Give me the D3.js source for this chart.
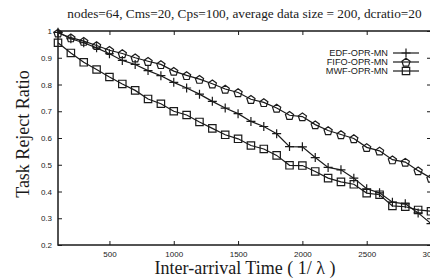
<!DOCTYPE html>
<html>
<head>
<meta charset="utf-8">
<script src="https://d3js.org/d3.v7.min.js"></script>
<style>
  body { margin: 0; background: #fff; }
  svg { display: block; }
</style>
</head>
<body>
<svg id="chart" width="430" height="278"></svg>
<script>
var xValues = [100, 200, 300, 400, 500, 600, 700, 800, 900, 1000, 1100, 1200, 1300, 1400, 1500,
  1600, 1700, 1800, 1900, 2000, 2100, 2200, 2300, 2400, 2500, 2600, 2700, 2800, 2900, 3000];
var edf = [0.995, 0.971, 0.956, 0.937, 0.915, 0.890, 0.875, 0.852, 0.833, 0.808, 0.787, 0.764, 0.737, 0.712, 0.691,
  0.662, 0.643, 0.616, 0.568, 0.567, 0.527, 0.490, 0.481, 0.450, 0.410, 0.395, 0.360, 0.354, 0.320, 0.280];
var fifo = [0.993, 0.975, 0.962, 0.946, 0.928, 0.916, 0.900, 0.887, 0.875, 0.850, 0.834, 0.820, 0.803, 0.783, 0.770,
  0.745, 0.733, 0.712, 0.685, 0.680, 0.650, 0.628, 0.613, 0.598, 0.565, 0.552, 0.519, 0.510, 0.478, 0.450];
var mwf = [0.956, 0.918, 0.883, 0.856, 0.828, 0.802, 0.778, 0.746, 0.728, 0.700, 0.686, 0.660, 0.636, 0.612, 0.597,
  0.572, 0.559, 0.535, 0.498, 0.497, 0.475, 0.450, 0.436, 0.427, 0.394, 0.388, 0.346, 0.343, 0.331, 0.326];
var seriesNames = ['EDF-OPR-MN', 'FIFO-OPR-MN', 'MWF-OPR-MN'];
var seriesMarks = ['plus', 'pentagon', 'square'];
var xTicks = [500, 1000, 1500, 2000, 2500, 3000];
var yTicks = [0.2, 0.3, 0.4, 0.5, 0.6, 0.7, 0.8, 0.9, 1];
var title = 'nodes=64, Cms=20, Cps=100, average data size = 200, dcratio=20';

var svg = d3.select('#chart');
var plotLeft = 58, plotRight = 431, plotTop = 31, plotBottom = 245;
var ink = '#1a1a1a';

var x = d3.scaleLinear().domain([100, 3000]).range([plotLeft, plotRight]);
var y = d3.scaleLinear().domain([0.2, 1]).range([plotBottom, plotTop]);

// frame
svg.append('rect')
  .attr('x', plotLeft).attr('y', plotTop)
  .attr('width', plotRight - plotLeft).attr('height', plotBottom - plotTop)
  .attr('fill', 'none').attr('stroke', ink).attr('stroke-width', 1.5);

// axes with inward ticks
var xAxis = svg.append('g').attr('transform', 'translate(0,' + plotBottom + ')')
  .call(d3.axisBottom(x).tickValues(xTicks).tickSize(-4).tickPadding(6).tickFormat(d3.format('d')));
var xTop = svg.append('g').attr('transform', 'translate(0,' + plotTop + ')')
  .call(d3.axisTop(x).tickValues(xTicks).tickSize(-4).tickFormat(''));
var yAxis = svg.append('g').attr('transform', 'translate(' + plotLeft + ',0)')
  .call(d3.axisLeft(y).tickValues(yTicks).tickSize(-4).tickPadding(6).tickFormat(function (d) {
    return d === 1 ? '1' : d3.format('.1f')(d);
  }));
var yRight = svg.append('g').attr('transform', 'translate(' + plotRight + ',0)')
  .call(d3.axisRight(y).tickValues(yTicks).tickSize(-4).tickFormat(''));

[xAxis, xTop, yAxis, yRight].forEach(function (g) {
  g.select('.domain').remove();
  g.selectAll('line').attr('stroke', ink).attr('stroke-width', 1);
  g.selectAll('text')
    .attr('fill', ink)
    .style('font-family', '"Liberation Sans", Arial, sans-serif')
    .style('font-size', '8px');
});

// marker shapes
function markPath(kind, cx, cy) {
  if (kind === 'plus') {
    return 'M' + (cx - 4.5) + ',' + cy + 'H' + (cx + 4.5) + 'M' + cx + ',' + (cy - 4.5) + 'V' + (cy + 4.5);
  }
  if (kind === 'square') {
    return 'M' + (cx - 3.7) + ',' + (cy - 3.7) + 'h7.4v7.4h-7.4Z';
  }
  var pts = d3.range(5).map(function (i) {
    var a = -Math.PI / 2 + i * 2 * Math.PI / 5;
    return [cx + 4.3 * Math.cos(a), cy + 4.3 * Math.sin(a) + 0.6];
  });
  return 'M' + pts.join('L') + 'Z';
}

var line = d3.line()
  .x(function (d) { return x(d[0]); })
  .y(function (d) { return y(d[1]); });

var allSeries = [edf, fifo, mwf];
allSeries.forEach(function (vals, k) {
  var pts = xValues.map(function (v, i) { return [v, vals[i]]; });
  svg.append('path')
    .datum(pts)
    .attr('d', line)
    .attr('fill', 'none').attr('stroke', ink).attr('stroke-width', 1.2);
  svg.selectAll('.mark' + k)
    .data(pts).enter()
    .append('path')
    .attr('class', 'mark' + k)
    .attr('d', function (d) { return markPath(seriesMarks[k], x(d[0]), y(d[1])); })
    .attr('fill', 'none').attr('stroke', ink).attr('stroke-width', 1.2);
});

// legend
seriesNames.forEach(function (name, k) {
  var ly = 53 + k * 9;
  svg.append('text')
    .attr('x', 388).attr('y', ly).attr('dy', '0.35em')
    .attr('text-anchor', 'end')
    .attr('fill', ink)
    .style('font-family', '"Liberation Sans", Arial, sans-serif')
    .style('font-size', '9.2px')
    .text(name);
  svg.append('line')
    .attr('x1', 393).attr('x2', 419).attr('y1', ly).attr('y2', ly)
    .attr('stroke', ink).attr('stroke-width', 1.2);
  svg.append('path')
    .attr('d', markPath(seriesMarks[k], 406, ly))
    .attr('fill', 'none').attr('stroke', ink).attr('stroke-width', 1.2);
});

// titles
svg.append('text')
  .attr('x', (plotLeft + plotRight) / 2).attr('y', 18)
  .attr('text-anchor', 'middle').attr('fill', ink)
  .style('font-family', '"Liberation Serif", "Times New Roman", serif')
  .style('font-size', '13.3px')
  .text(title);

svg.append('text')
  .attr('x', 245).attr('y', 274)
  .attr('text-anchor', 'middle').attr('fill', ink)
  .style('font-family', '"Liberation Serif", "Times New Roman", serif')
  .style('font-size', '18px')
  .text('Inter-arrival Time ( 1/ \u03bb )');

svg.append('text')
  .attr('transform', 'translate(29,134) rotate(-90)')
  .attr('text-anchor', 'middle').attr('fill', ink)
  .style('font-family', '"Liberation Serif", "Times New Roman", serif')
  .style('font-size', '18px')
  .text('Task Reject Ratio');
</script>
</body>
</html>
